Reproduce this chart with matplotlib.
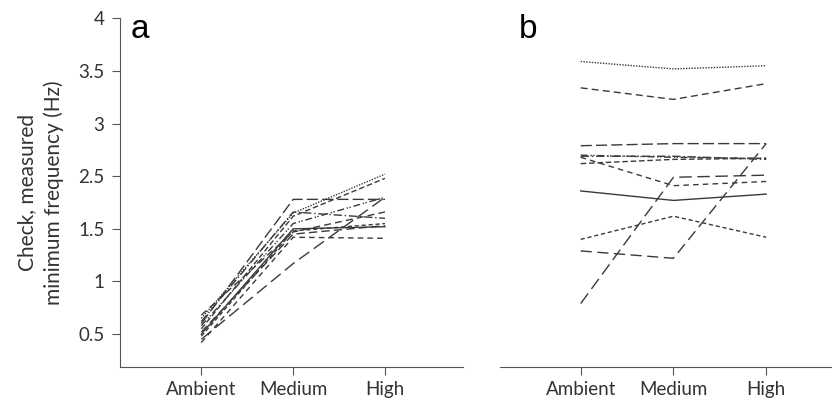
from matplotlib import pyplot as plt
import numpy as np

# Werte in Achsen-Einheiten (Positionen), Beschriftung der y-Achse wie im Original
levels = ['Ambient', 'Medium', 'High']
ytick_pos = [1, 1.5, 2, 2.5, 3, 3.5, 4]
ytick_labels = ['0.5', '1', '1.5', '2.5', '3', '3.5', '4']

panel_a = [
    [1.10, 2.28, 2.28],
    [1.15, 2.15, 2.52],
    [1.05, 2.12, 2.48],
    [1.12, 2.16, 2.10],
    [1.08, 2.05, 2.30],
    [1.00, 2.00, 2.02],
    [0.98, 1.98, 2.05],
    [1.18, 1.97, 2.16],
    [0.95, 1.67, 2.30],
    [0.92, 1.92, 1.91],
    [1.02, 1.95, 2.03],
]
panel_b = [
    [3.59, 3.52, 3.55],
    [3.34, 3.23, 3.38],
    [2.79, 2.81, 2.81],
    [2.69, 2.69, 2.66],
    [2.70, 2.68, 2.67],
    [2.62, 2.66, 2.67],
    [2.68, 2.41, 2.45],
    [1.29, 2.49, 2.51],
    [2.36, 2.27, 2.33],
    [1.90, 2.12, 1.92],
    [1.79, 1.72, 2.81],
]

styles = [
    (0, (8, 3)),
    (0, (1, 1)),
    (0, (4, 2)),
    (0, (6, 2, 1, 2)),
    (0, (5, 2, 1, 1, 1, 2)),
    '-',
    (0, (3, 2)),
    (0, (5, 3)),
    (0, (9, 4)),
    (0, (4, 3)),
    (0, (6, 3)),
]
styles_b = [
    (0, (1, 1)),
    (0, (5, 3)),
    (0, (8, 3)),
    (0, (6, 2, 1, 2)),
    (0, (5, 2, 1, 1, 1, 2)),
    (0, (4, 2)),
    (0, (4, 3)),
    (0, (9, 4)),
    '-',
    (0, (3, 2)),
    (0, (8, 4)),
]

plt.rcParams['font.family'] = ['Lato', 'DejaVu Sans']
line_col = '#3a3a3a'
text_col = '#333333'

fig = plt.figure(figsize=(8.32, 3.98), dpi=100)
ax_a = fig.add_axes([0.1438, 0.0787, 0.4127, 0.8751])
ax_b = fig.add_axes([0.6010, 0.0787, 0.3990, 0.8751])

x = np.arange(1, len(levels) + 1)

for ax, data, sty in [(ax_a, panel_a, styles), (ax_b, panel_b, styles_b)]:
    for vals, ls in zip(data, sty):
        ax.plot(x, vals, color=line_col, lw=1.0, linestyle=ls)
    ax.set_ylim(0.69, 4.0)
    ax.set_xticks(x)
    ax.set_xticklabels(levels, fontsize=13.5, color=text_col)
    for s in ['top', 'right']:
        ax.spines[s].set_visible(False)
    ax.spines['bottom'].set_color('#555555')
    ax.tick_params(axis='x', direction='out', length=6, color='#555555', pad=4)

ax_a.set_xlim(0.11, 3.85)
ax_b.set_xlim(0.13, 3.71)

ax_a.set_yticks(ytick_pos)
ax_a.set_yticklabels(ytick_labels, fontsize=13.5, color=text_col)
ax_a.spines['left'].set_color('#555555')
ax_a.tick_params(axis='y', direction='out', length=6, color='#555555', pad=5)
ax_a.set_ylabel('Check, measured\nminimum frequency (Hz)', fontsize=15,
                color=text_col, labelpad=10, linespacing=1.4)

ax_b.spines['left'].set_visible(False)
ax_b.set_yticks([])

fig.text(131 / 832, 1 - 38 / 398, 'a', fontsize=24, family='Liberation Sans', va='baseline')
fig.text(519 / 832, 1 - 38 / 398, 'b', fontsize=24, family='Liberation Sans', va='baseline')

fig.savefig('out.png', dpi=100)
